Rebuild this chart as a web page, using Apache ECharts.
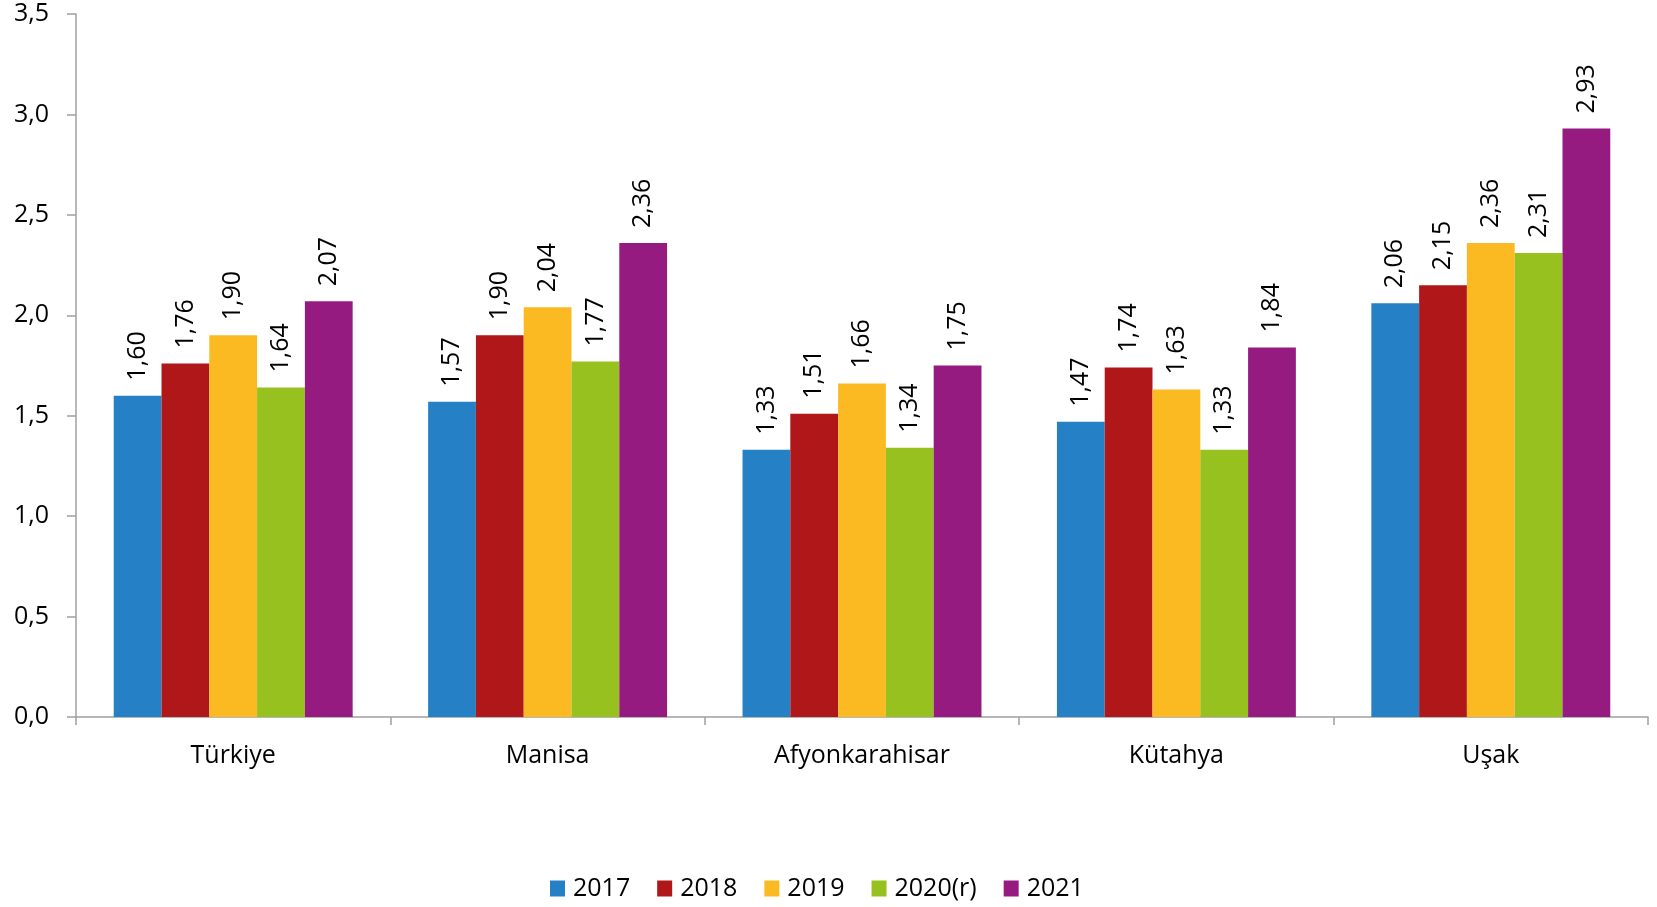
<!DOCTYPE html>
<html>
<head>
<meta charset="utf-8">
<script src="https://cdn.jsdelivr.net/npm/echarts@6/dist/echarts.min.js"></script>
<style>
html,body{margin:0;padding:0;background:#fff;}
#chart{width:1657px;height:907px;}
</style>
</head>
<body>
<div id="chart"></div>
<script>
const categories = ['Türkiye', 'Manisa', 'Afyonkarahisar', 'Kütahya', 'Uşak'];
const seriesNames = ['2017', '2018', '2019', '2020(r)', '2021'];
const v2017 = [1.60, 1.57, 1.33, 1.47, 2.06];
const v2018 = [1.76, 1.90, 1.51, 1.74, 2.15];
const v2019 = [1.90, 2.04, 1.66, 1.63, 2.36];
const v2020 = [1.64, 1.77, 1.34, 1.33, 2.31];
const v2021 = [2.07, 2.36, 1.75, 1.84, 2.93];
const colors = ['#2680C6', '#AF1718', '#FBBA22', '#97C11F', '#951B80'];

const FONT = 'Open Sans';
const allValues = [v2017, v2018, v2019, v2020, v2021];
const fmt = v => v.toFixed(2).replace('.', ',');

const chart = echarts.init(document.getElementById('chart'));
chart.setOption({
  animation: false,
  textStyle: { fontFamily: FONT },
  legend: {
    bottom: 1,
    left: 545,
    itemWidth: 15,
    itemHeight: 16,
    itemGap: 27,
    icon: 'rect',
    textStyle: { fontFamily: FONT, fontSize: 25, color: '#000', padding: [0, 0, 0, 3] },
    data: seriesNames
  },
  grid: { left: 76, right: 9, top: 14, bottom: 190, containLabel: false },
  xAxis: {
    type: 'category',
    data: categories,
    axisLine: { lineStyle: { color: '#A0A0A0', width: 1.5 } },
    axisTick: { show: true, length: 8, lineStyle: { color: '#A0A0A0', width: 1.5 } },
    axisLabel: { margin: 26, fontSize: 25, color: '#000', fontFamily: FONT }
  },
  yAxis: {
    type: 'value',
    min: 0, max: 3.5, interval: 0.5,
    splitLine: { show: false },
    axisLine: { show: true, lineStyle: { color: '#A0A0A0', width: 1.5 } },
    axisTick: { show: true, length: 9, lineStyle: { color: '#A0A0A0', width: 1.5 } },
    axisLabel: { margin: 27, fontSize: 25, color: '#000', fontFamily: FONT,
      formatter: v => v.toFixed(1).replace('.', ',') }
  },
  series: seriesNames.map((name, i) => ({
    name: name,
    type: 'bar',
    data: allValues[i],
    barGap: '0%',
    barCategoryGap: '24%',
    itemStyle: { color: colors[i] },
    label: {
      show: true,
      position: 'top',
      rotate: 90,
      align: 'left',
      verticalAlign: 'middle',
      distance: 15,
      fontSize: 25,
      color: '#000',
      fontFamily: FONT,
      formatter: p => fmt(p.value)
    }
  }))
});
</script>
</body>
</html>
